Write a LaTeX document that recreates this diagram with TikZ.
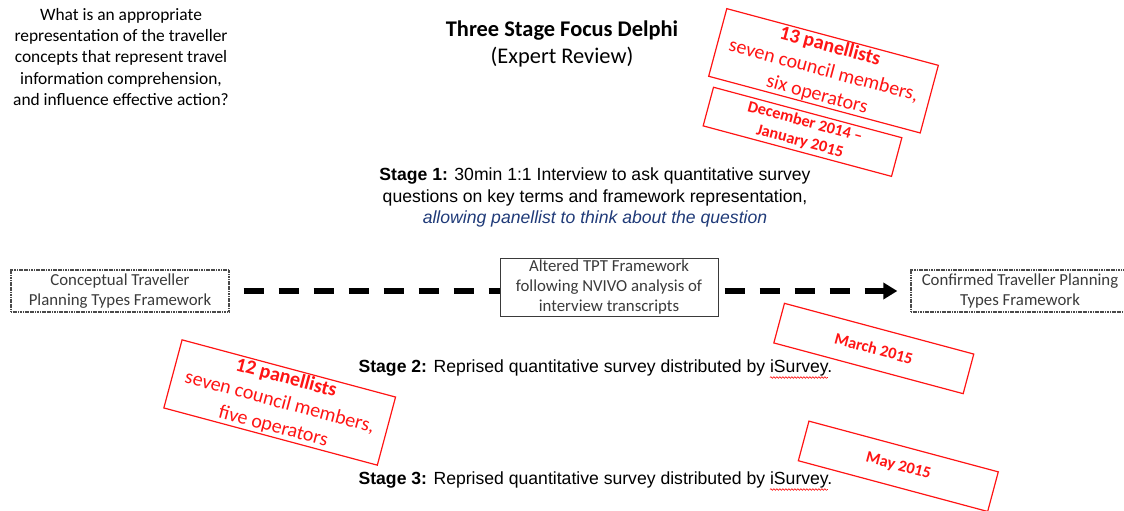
\documentclass[tikz,border=0pt]{standalone}
\usepackage{fontspec}
\setmainfont{Carlito}
\newfontfamily\arialfont{Liberation Sans}
\usetikzlibrary{arrows.meta, positioning, calc, decorations.pathmorphing}
\definecolor{cred}{HTML}{FF1414}
\definecolor{cnavy}{HTML}{1F3A78}
\definecolor{cgrey}{HTML}{4A4A4A}
\definecolor{cdark}{HTML}{3A3A3A}
\tikzset{
  every picture/.style={line width=1pt},
  tptbox/.style={draw=#1, align=center, inner sep=0pt, minimum width=218pt, minimum height=42pt, text=cdark, font=\fontsize{16.8}{19.5}\selectfont},
  tptbox/.default=cgrey,
  dotbox/.style={tptbox, line width=1.3pt, dash pattern=on 1.2pt off 0.5pt},
  stamp/.style={draw=cred, text=cred, line width=1.2pt, rotate=-15, align=center, inner sep=0pt},
  panel/.style={stamp, font=\fontsize{20}{25}\selectfont},
  datebox/.style={stamp, minimum width=196pt, minimum height=41pt, font=\bfseries\fontsize{16.3}{20}\selectfont},
  stage/.style={font=\arialfont\fontsize{17.6}{21.5}\selectfont, align=center, inner sep=0pt},
  flow/.style={draw=black, line width=5.5pt, dash pattern=on 20pt off 15pt},
  squiggle/.style={draw=cred, line width=0.6pt, decorate, decoration={snake, amplitude=0.8pt, segment length=3pt}},
}

\begin{document}
\begin{tikzpicture}[x=1pt, y=-1pt]
  \useasboundingbox (0,0) rectangle (1124,511);
  % heading and question
  \node[align=center, font=\fontsize{17.4}{21.3}\selectfont] (quest) at (121,57)
    {What is an appropriate\\representation of the traveller\\concepts that represent travel\\information comprehension,\\and influence effective action?};
  \node[align=center, font=\fontsize{22.4}{27}\selectfont] (title) at (562,43.5)
    {\textbf{Three Stage Focus Delphi}\\(Expert Review)};
  % frameworks
  \node[dotbox] (conc) at (120,291) {Conceptual Traveller\\Planning Types Framework};
  \node[tptbox=cdark, minimum height=58pt, font=\fontsize{16.8}{20}\selectfont] (alt) at (609,287.5)
    {Altered TPT Framework\\following NVIVO analysis of\\interview transcripts};
  \node[dotbox] (conf) at (1020,291) {Confirmed Traveller Planning\\Types Framework};
  \draw[flow, shorten <=14pt] (conc) -- (conc -| alt.west);
  \draw[flow, shorten <=6pt, shorten >=13pt, -{Triangle[length=14pt, width=16pt]}] (alt.east |- conf) -- (conf);
  % stages
  \node[stage] (s1) at (595,197.5)
    {\textbf{Stage 1:} 30min 1:1 Interview to ask quantitative survey\\questions on key terms and framework representation,\\\textcolor{cnavy}{\itshape allowing panellist to think about the question}};
  \node[stage] (s2) at (595.5,368) {\textbf{Stage 2:} Reprised quantitative survey distributed by iSurvey.};
  \node[stage] (s3) at (595.5,480) {\textbf{Stage 3:} Reprised quantitative survey distributed by iSurvey.};
  \draw[squiggle] ($(s2.base east)+(-63,5)$) -- ($(s2.base east)+(-5,5)$);
  \draw[squiggle] ($(s3.base east)+(-63,5)$) -- ($(s3.base east)+(-5,5)$);
  % panels and dates
  \node[panel, minimum width=219pt, minimum height=70pt] (p13) at (823.5,70.8)
    {\textbf{13 panellists}\\seven council members,\\six operators};
  \node[datebox, minimum width=195pt, minimum height=40pt] (dec) at (802.5,131.8)
    {December 2014 --\\January 2015};
  \node[datebox] (mar) at (873.8,348.5) {March 2015};
  \node[panel, minimum width=221pt, minimum height=70.5pt] (p12) at (279.7,402.5)
    {\textbf{12 panellists}\\seven council members,\\five operators};
  \node[datebox] (may) at (898.3,466.3) {May 2015};
\end{tikzpicture}
\end{document}
